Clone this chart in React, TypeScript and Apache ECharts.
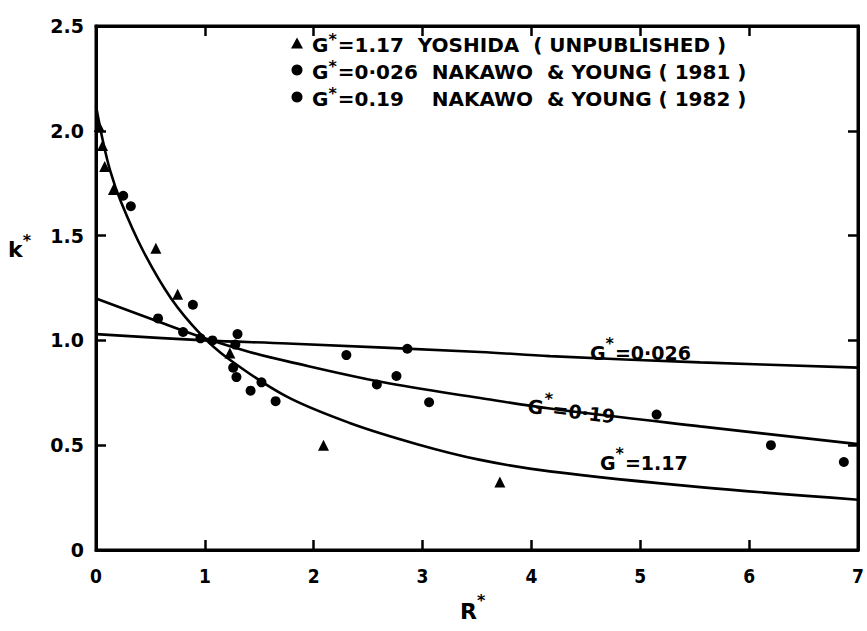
import React, { useEffect, useRef } from "react";
import * as echarts from "echarts";

// ---- data ----
const X_MIN = 0;
const X_MAX = 7;
const X_INTERVAL = 1;
const Y_MIN = 0;
const Y_MAX = 2.5;
const Y_INTERVAL = 0.5;

const SERIES_YOSHIDA = "G*=1.17 YOSHIDA (UNPUBLISHED)";
const SERIES_NY81 = "G*=0.026 NAKAWO & YOUNG (1981)";
const SERIES_NY82 = "G*=0.19 NAKAWO & YOUNG (1982)";

// triangles
const yoshidaPoints: [number, number][] = [
  [0.03, 2.02], [0.06, 1.93], [0.08, 1.83], [0.16, 1.72], [0.55, 1.44],
  [0.75, 1.22], [1.23, 0.94], [2.09, 0.5], [3.71, 0.325],
];
// dots (1981)
const nakawo1981Points: [number, number][] = [
  [0.8, 1.04], [0.96, 1.01], [1.07, 1.0], [1.3, 1.03], [1.28, 0.98],
  [2.3, 0.93], [2.86, 0.96],
];
// dots (1982)
const nakawo1982Points: [number, number][] = [
  [0.25, 1.69], [0.32, 1.64], [0.57, 1.105], [0.89, 1.17], [1.26, 0.87],
  [1.29, 0.825], [1.42, 0.76], [1.52, 0.8], [1.65, 0.71], [2.58, 0.79],
  [2.76, 0.83], [3.06, 0.705], [5.15, 0.646], [6.2, 0.5], [6.87, 0.42],
];

// fitted curves
const curve117: [number, number][] = [
  [0, 2.12], [0.06, 1.96], [0.13, 1.81], [0.23, 1.66], [0.43, 1.43],
  [0.69, 1.2], [0.96, 1.03], [1.21, 0.915], [1.74, 0.735], [2.33, 0.606],
  [2.95, 0.505], [3.53, 0.43], [4.17, 0.375], [5.55, 0.3], [7, 0.24],
];
const curve019: [number, number][] = [
  [0, 1.2], [0.57, 1.09], [1, 1.01], [1.41, 0.945], [1.76, 0.9],
  [2.64, 0.8], [3.53, 0.725], [4.17, 0.675], [5.55, 0.59], [7, 0.505],
];
const curve0026: [number, number][] = [
  [0, 1.03], [1, 1.0], [1.76, 0.985], [3.53, 0.945], [4.17, 0.925],
  [5.55, 0.895], [7, 0.87],
];

const FONT = '"DejaVu Sans", "Liberation Sans", Arial, sans-serif';
const NARROW = '"Liberation Sans Narrow", "DejaVu Sans Condensed", "Liberation Sans", Arial, sans-serif';
const INK = "#000";

const makeRich = (size: number, sup: number, lh: number, family: string) => ({
  g: { fontSize: size, fontWeight: "bold", fontFamily: family, color: INK, lineHeight: lh, verticalAlign: "bottom", padding: [0, 0, 0, 4] },
  s: { fontSize: sup, fontWeight: "bold", fontFamily: family, color: INK, lineHeight: lh, verticalAlign: "top", padding: [0, 1, 0, 0] },
  t: { fontSize: size, fontWeight: "bold", fontFamily: family, color: INK, lineHeight: lh, verticalAlign: "bottom" },
});

const legendRich = makeRich(20, 16, 24, FONT);
const curveRich = makeRich(19, 16, 27, FONT);

const legendText: Record<string, string> = {
  [SERIES_YOSHIDA]: "{g|G}{s|*}{t|=1.17  YOSHIDA  ( UNPUBLISHED )}",
  [SERIES_NY81]: "{g|G}{s|*}{t|=0·026  NAKAWO  & YOUNG ( 1981 )}",
  [SERIES_NY82]: "{g|G}{s|*}{t|=0.19    NAKAWO  & YOUNG ( 1982 )}",
};

function curveLabel(text: string, x: number, y: number, rotation = 0) {
  return {
    type: "text",
    x,
    y,
    rotation,
    style: {
      text: `{g|G}{s|*}{t|${text}}`,
      rich: curveRich,
      fill: INK,
    },
  };
}

const mkAxisLine = () => ({ show: true, onZero: false, lineStyle: { color: INK, width: 3 } });
const mkTick = () => ({ show: true, inside: true, length: 10, lineStyle: { color: INK, width: 2.5 } });

export default function App() {
  const ref = useRef<HTMLDivElement>(null);

  useEffect(() => {
    if (!ref.current) return;
    const chart = echarts.init(ref.current, undefined, { renderer: "svg" });

    const curveSeries = (data: [number, number][]) => ({
      type: "line",
      data,
      smooth: 0.35,
      showSymbol: false,
      symbol: "none",
      lineStyle: { color: INK, width: 2.6 },
      silent: true,
      z: 2,
    });

    const markStyle = { color: INK, opacity: 1, borderWidth: 0 };

    chart.setOption({
      animation: false,
      backgroundColor: "#fff",
      grid: {
        left: 96,
        right: 9,
        top: 26,
        bottom: 81,
        containLabel: false,
        show: true,
        borderColor: INK,
        borderWidth: 3,
        backgroundColor: "transparent",
      },
      legend: {
        orient: "vertical",
        left: 286,
        top: 26,
        itemGap: 3,
        itemWidth: 12,
        itemHeight: 11,
        selectedMode: false,
        itemStyle: { color: INK, opacity: 1 },
        data: [
          { name: SERIES_YOSHIDA, icon: "triangle" },
          { name: SERIES_NY81, icon: "circle" },
          { name: SERIES_NY82, icon: "circle" },
        ],
        formatter: (name: string) => legendText[name] || name,
        textStyle: { color: INK, fontWeight: "bold", fontSize: 20, fontFamily: FONT, rich: legendRich },
      },
      xAxis: [
        {
          type: "value",
          position: "bottom",
          min: X_MIN,
          max: X_MAX,
          interval: X_INTERVAL,
          axisLine: mkAxisLine(),
          axisTick: mkTick(),
          splitLine: { show: false },
          axisLabel: { color: INK, fontSize: 19, fontWeight: "bold", fontFamily: NARROW, margin: 16 },
        },
        {
          type: "value",
          position: "top",
          min: X_MIN,
          max: X_MAX,
          interval: X_INTERVAL,
          axisLine: mkAxisLine(),
          axisTick: mkTick(),
          splitLine: { show: false },
          axisLabel: { show: false },
        },
      ],
      yAxis: [
        {
          type: "value",
          position: "left",
          min: Y_MIN,
          max: Y_MAX,
          interval: Y_INTERVAL,
          axisLine: mkAxisLine(),
          axisTick: mkTick(),
          splitLine: { show: false },
          axisLabel: {
            color: INK,
            fontSize: 19,
            fontWeight: "bold",
            fontFamily: FONT,
            margin: 12,
            formatter: (v: number) => (v === 0 ? "0" : v.toFixed(1)),
          },
        },
        {
          type: "value",
          position: "right",
          min: Y_MIN,
          max: Y_MAX,
          interval: Y_INTERVAL,
          axisLine: mkAxisLine(),
          axisTick: mkTick(),
          splitLine: { show: false },
          axisLabel: { show: false },
        },
      ],
      series: [
        curveSeries(curve117),
        curveSeries(curve019),
        curveSeries(curve0026),
        {
          name: SERIES_YOSHIDA,
          type: "scatter",
          symbol: "triangle",
          symbolSize: 11,
          itemStyle: markStyle,
          data: yoshidaPoints,
          z: 3,
        },
        {
          name: SERIES_NY81,
          type: "scatter",
          symbol: "circle",
          symbolSize: 10,
          itemStyle: markStyle,
          data: nakawo1981Points,
          z: 3,
        },
        {
          name: SERIES_NY82,
          type: "scatter",
          symbol: "circle",
          symbolSize: 10,
          itemStyle: markStyle,
          data: nakawo1982Points,
          z: 3,
        },
      ],
      graphic: [
        curveLabel("=0·026", 586, 335),
        curveLabel("=0·19", 526, 388, -0.12),
        curveLabel("=1.17", 596, 445),
        {
          type: "text",
          x: 8,
          y: 232,
          style: {
            text: "{k|k}{s|*}",
            rich: {
              k: { fontSize: 22, fontWeight: "bold", fontFamily: FONT, fill: INK, lineHeight: 28, verticalAlign: "bottom" },
              s: { fontSize: 16, fontWeight: "bold", fontFamily: FONT, fill: INK, lineHeight: 28, verticalAlign: "top" },
            },
          },
        },
        {
          type: "text",
          x: 460,
          y: 592,
          style: {
            text: "{k|R}{s|*}",
            rich: {
              k: { fontSize: 22, fontWeight: "bold", fontFamily: FONT, fill: INK, lineHeight: 30, verticalAlign: "bottom" },
              s: { fontSize: 16, fontWeight: "bold", fontFamily: FONT, fill: INK, lineHeight: 30, verticalAlign: "top" },
            },
          },
        },
      ],
    });

    return () => chart.dispose();
  }, []);

  return (
    <div
      ref={ref}
      style={{ position: "fixed", left: 0, top: 0, width: 867, height: 631, background: "#fff" }}
    />
  );
}
